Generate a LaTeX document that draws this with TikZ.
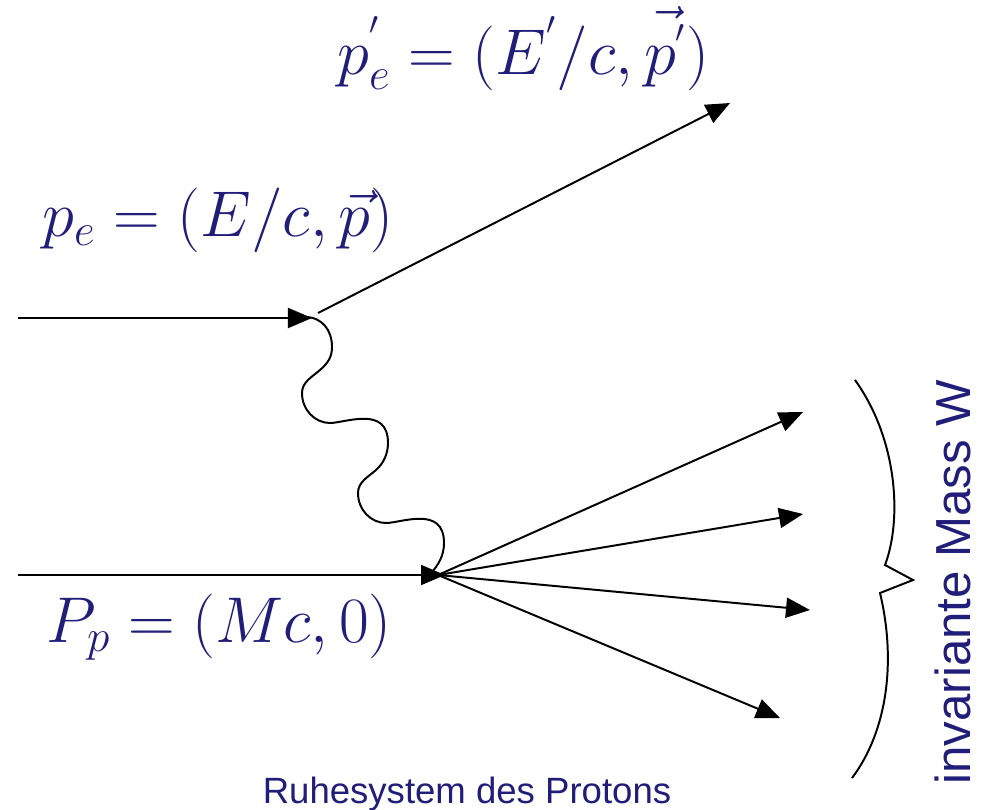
\RequirePackage{fix-cm}
\documentclass[tikz,border=0pt]{standalone}
\usepackage[no-math]{fontspec}
\newfontfamily\arialfont{Liberation Sans}
\usepackage{tikz}
\usetikzlibrary{arrows.meta}
\definecolor{labelblue}{RGB}{33,30,122}

\begin{document}
\begin{tikzpicture}[
        x=0.025cm, y=-0.025cm,
        line/.style={line width=1.4pt},
        arrow/.style={-{Triangle[length=0.6cm, width=0.5cm]}, line width=1.4pt},
        mathlabel/.style={text=labelblue, inner sep=0pt, anchor=base west, font=\fontsize{46}{54}\selectfont},
        sanslabel/.style={text=labelblue, inner sep=0pt, anchor=base, font=\arialfont\fontsize{35}{42}\selectfont}
    ]
        \useasboundingbox (0,0) rectangle (983,809);

        % electron and proton lines
        \coordinate (ein) at (18,318);
        \coordinate (evtx) at (312,318);
        \coordinate (eout) at (318,313);
        \coordinate (etip) at (730,103);
        \coordinate (pin) at (18,575);
        \coordinate (pvtx) at (445,575);
        \coordinate (hstart) at (438,575);
        \coordinate (h1) at (803,412);
        \coordinate (h2) at (803,514);
        \coordinate (h3) at (810,610);
        \coordinate (h4) at (780,718);
        \coordinate (gstart) at (305,317);
        \coordinate (gend) at (432,572);

        \draw[arrow] (ein) -- (evtx);
        \draw[arrow] (eout) -- (etip);
        \draw[arrow] (pin) -- (pvtx);

        % photon
        \draw[line] (gstart) .. controls (322,317) and (332,330) .. (332,347)
            .. controls (332,357) and (328,363) .. (320,370)
            .. controls (312,377) and (302,382) .. (302,393)
            .. controls (302,410) and (315,423) .. (330,423)
            .. controls (345,423) and (388,405) .. (388,443)
            .. controls (388,453) and (384,463) .. (376,470)
            .. controls (368,477) and (358,482) .. (358,493)
            .. controls (358,510) and (371,523) .. (386,523)
            .. controls (401,523) and (444,505) .. (444,543)
            .. controls (444,556) and (438,565) .. (gend);

        % hadrons
        \draw[arrow] (hstart) -- (h1);
        \draw[arrow] (hstart) -- (h2);
        \draw[arrow] (hstart) -- (h3);
        \draw[arrow] (hstart) -- (h4);

        % brace
        \draw[line] (855,380) .. controls (898,440) and (902,520) .. (885,565)
            -- (913,580) -- (880,593) .. controls (896,660) and (888,730) .. (852,778);

        \node[mathlabel] (peout) at (337,74) {$p_e^{'} = (E^{'}/c, \vec{p^{'}})$};
        \node[mathlabel] (pein) at (42,236) {$p_e = (E/c, \vec{p})$};
        \node[mathlabel] (pp) at (46,642) {$P_p = (Mc, 0)$};
        \node[sanslabel, rotate=90] (mass) at (970,582) {invariante Mass W};
        \node[sanslabel, font=\arialfont\fontsize{26}{32}\selectfont] (rest) at (467,803) {Ruhesystem des Protons};
    \end{tikzpicture}
\end{document}
